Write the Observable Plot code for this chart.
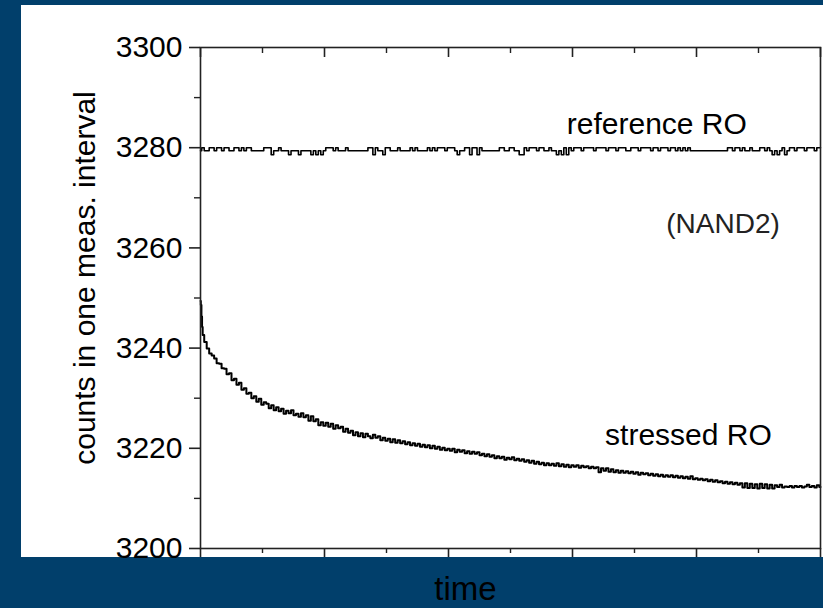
<!DOCTYPE html>
<html><head><meta charset="utf-8">
<script src="https://cdn.jsdelivr.net/npm/d3@7"></script>
<script src="https://cdn.jsdelivr.net/npm/@observablehq/plot@0.6"></script>
<style>
html,body{margin:0;padding:0;background:#013f6b;}
#wrap{position:relative;width:823px;height:608px;background:#013f6b;overflow:hidden;}
#panel{position:absolute;left:21px;top:5px;width:802px;height:552px;background:#fff;}
#chart{position:absolute;left:0;top:0;}
</style></head><body>
<div id="wrap"><div id="panel"></div><div id="chart"></div></div>
<script>
// sampling grid (time, arbitrary units 0..5)
const sampleTime = d3.range(251).map(i => +(i * 0.02).toFixed(2));

// reference ring oscillator counts
const referenceValues = [
3279.4,3280.0,3279.4,3279.4,3280.0,3280.0,3279.4,3280.0,3280.0,3279.4,
3280.0,3280.0,3279.4,3279.4,3280.0,3280.0,3279.4,3280.0,3279.4,3280.0,
3280.0,3279.4,3279.4,3279.4,3279.4,3279.4,3280.0,3280.0,3280.0,3278.6,
3279.4,3279.4,3280.0,3279.4,3279.4,3279.4,3278.6,3279.4,3279.4,3279.4,
3278.6,3279.4,3279.4,3279.4,3279.4,3278.6,3279.4,3278.6,3279.4,3278.6,
3279.4,3280.0,3280.0,3280.0,3279.4,3280.0,3279.4,3279.4,3279.4,3280.0,
3279.4,3279.4,3279.4,3279.4,3279.4,3279.4,3279.4,3279.4,3280.0,3280.0,
3278.6,3280.0,3279.4,3279.4,3278.6,3280.0,3280.0,3279.4,3279.4,3279.4,
3280.0,3279.4,3279.4,3279.4,3279.4,3280.0,3279.4,3280.0,3279.4,3279.4,
3279.4,3279.4,3280.0,3279.4,3280.0,3279.4,3280.0,3280.0,3280.0,3279.4,
3280.0,3280.0,3280.0,3279.4,3278.6,3279.4,3279.4,3280.0,3280.0,3278.6,
3280.0,3280.0,3278.6,3280.0,3279.4,3279.4,3279.4,3279.4,3279.4,3279.4,
3279.4,3280.0,3280.0,3279.4,3279.4,3280.0,3280.0,3279.4,3279.4,3278.6,
3278.6,3280.0,3279.4,3280.0,3280.0,3280.0,3279.4,3280.0,3280.0,3279.4,
3279.4,3280.0,3279.4,3279.4,3278.6,3279.4,3278.6,3280.0,3278.6,3280.0,
3279.4,3280.0,3280.0,3280.0,3279.4,3280.0,3280.0,3280.0,3280.0,3279.4,
3280.0,3280.0,3280.0,3280.0,3279.4,3280.0,3280.0,3280.0,3279.4,3280.0,
3280.0,3280.0,3279.4,3279.4,3280.0,3280.0,3280.0,3279.4,3280.0,3280.0,
3280.0,3280.0,3279.4,3280.0,3280.0,3279.4,3280.0,3280.0,3280.0,3279.4,
3280.0,3280.0,3279.4,3280.0,3279.4,3280.0,3279.4,3280.0,3279.4,3279.4,
3279.4,3279.4,3279.4,3279.4,3279.4,3279.4,3279.4,3279.4,3279.4,3279.4,
3279.4,3279.4,3279.4,3280.0,3280.0,3279.4,3280.0,3280.0,3279.4,3280.0,
3279.4,3279.4,3280.0,3279.4,3279.4,3279.4,3280.0,3280.0,3279.4,3280.0,
3279.4,3278.6,3279.4,3278.6,3279.4,3280.0,3278.6,3279.4,3280.0,3280.0,
3279.4,3280.0,3280.0,3280.0,3279.4,3280.0,3280.0,3280.0,3279.4,3280.0,
3280.0
];

// stressed ring oscillator counts
const stressedValues = [
3249.4,3242.6,3241.2,3239.9,3238.9,3238.5,3237.9,3237.0,3236.9,3236.0,
3235.9,3234.8,3235.0,3233.6,3233.9,3232.7,3233.1,3231.7,3232.0,3230.9,
3231.1,3230.0,3230.4,3229.3,3229.9,3228.7,3229.2,3228.9,3228.0,3228.6,
3227.6,3228.2,3227.4,3227.9,3226.9,3227.5,3227.0,3227.6,3226.6,3226.9,
3226.3,3227.0,3226.2,3226.6,3225.5,3226.4,3225.4,3225.8,3224.6,3225.2,
3224.5,3225.1,3224.3,3224.9,3223.9,3224.6,3224.0,3224.3,3223.3,3223.9,
3223.1,3223.5,3222.6,3223.2,3222.4,3223.0,3222.2,3222.9,3222.4,3222.0,
3222.7,3222.1,3222.4,3221.6,3222.1,3221.5,3221.9,3221.2,3221.8,3221.1,
3221.6,3221.0,3221.4,3220.8,3221.2,3220.6,3221.0,3220.5,3220.9,3220.3,
3220.7,3220.2,3220.6,3220.0,3220.5,3219.9,3220.3,3219.7,3220.1,3219.6,
3219.9,3219.5,3219.9,3219.2,3219.7,3219.3,3219.6,3219.0,3219.4,3218.9,
3219.3,3218.9,3219.2,3218.6,3218.9,3218.4,3218.8,3218.3,3218.6,3218.0,
3218.4,3218.0,3218.3,3217.7,3218.1,3217.8,3218.2,3217.6,3217.9,3217.5,
3217.8,3217.3,3217.6,3217.1,3217.5,3216.9,3217.3,3216.8,3217.1,3216.6,
3217.0,3216.6,3216.9,3216.5,3217.0,3216.4,3216.8,3216.3,3216.7,3216.2,
3216.6,3216.3,3216.6,3216.1,3216.5,3216.2,3216.4,3216.0,3216.3,3216.0,
3216.2,3215.2,3216.0,3215.5,3216.0,3215.3,3215.8,3215.2,3215.6,3215.1,
3215.5,3215.1,3215.4,3215.0,3215.3,3214.9,3215.2,3214.7,3215.1,3214.8,
3215.0,3214.6,3214.9,3214.5,3214.8,3214.4,3214.7,3214.3,3214.6,3214.3,
3214.6,3214.2,3214.5,3214.1,3214.4,3214.0,3214.3,3213.9,3214.4,3213.8,
3214.0,3213.7,3213.9,3213.6,3213.8,3213.4,3213.7,3213.3,3213.6,3213.2,
3213.4,3213.0,3213.3,3212.9,3213.2,3212.8,3213.1,3212.7,3213.0,3212.2,
3213.0,3212.1,3212.9,3212.1,3212.8,3212.0,3212.9,3212.1,3212.8,3212.0,
3212.7,3212.0,3212.6,3212.3,3212.7,3212.2,3212.4,3212.3,3212.5,3212.2,
3212.5,3212.3,3212.5,3212.2,3212.4,3212.7,3212.3,3212.5,3212.2,3212.6,
3212.3
];
// extra samples in the steep initial drop
const stressedEarlyTime = [0.005, 0.01, 0.015];
const stressedEarlyValues = [3248.6, 3246.3, 3244.2];

// axes
const yMajorTicks = [3200, 3220, 3240, 3260, 3280, 3300];
const yMinorTicks = [3210, 3230, 3250, 3270, 3290];
const xMajorTicks = [0, 1, 2, 3, 4, 5];
const xMinorTicks = [0.5, 1.5, 2.5, 3.5, 4.5];

// annotations
const noteText = ["reference RO", "(NAND2)", "stressed RO"];
const noteTime = [3.68, 4.214, 3.935];
const noteCount = [3284.6, 3264.7, 3222.6];

const refData = sampleTime.map((t, i) => ({t, v: referenceValues[i]}));
const stressData = sampleTime.map((t, i) => ({t, v: stressedValues[i]}))
  .concat(stressedEarlyTime.map((t, i) => ({t, v: stressedEarlyValues[i]})))
  .sort((a, b) => a.t - b.t);
const notes = noteText.map((s, i) => ({s, t: noteTime[i], v: noteCount[i]}));

const W = 823, H = 608, mT = 47, mB = 60, mL = 200, mR = 3;
const innerH = H - mT - mB;
const font = "'Liberation Sans', Arial, Helvetica, sans-serif";

const chart = Plot.plot({
  width: W, height: H,
  marginTop: mT, marginBottom: mB, marginLeft: mL, marginRight: mR,
  style: {background: "transparent", color: "#000", fontFamily: font, fontSize: "29px", overflow: "visible"},
  x: {domain: [0, 5]},
  y: {domain: [3200, 3300]},
  marks: [
    Plot.line(refData, {x: "t", y: "v", stroke: "#000", strokeWidth: 1.6, curve: "step"}),
    Plot.line(stressData, {x: "t", y: "v", stroke: "#000", strokeWidth: 2, curve: "step"}),
    Plot.frame({stroke: "#222", strokeWidth: 1.6}),
    Plot.axisY(yMajorTicks, {tickSize: 11, tickPadding: 7, fontSize: 30, label: null, tickFormat: d => String(d), stroke: "#222", strokeWidth: 1.6, fill: "#000"}),
    Plot.axisY(yMinorTicks, {tickSize: 6, tickFormat: () => "", label: null, stroke: "#222", strokeWidth: 1.4}),
    Plot.axisX(xMajorTicks, {tickSize: 9, tickFormat: () => "", label: null, stroke: "#222", strokeWidth: 1.6}),
    Plot.axisX(xMinorTicks, {tickSize: 5, tickFormat: () => "", label: null, stroke: "#222", strokeWidth: 1.4}),
    Plot.tickX(xMajorTicks, {x: d => d, insetBottom: innerH - 10, stroke: "#222", strokeWidth: 1.6}),
    Plot.tickX(xMinorTicks, {x: d => d, insetBottom: innerH - 6, stroke: "#222", strokeWidth: 1.4}),
    Plot.text(notes, {x: "t", y: "v", text: "s", fontSize: d => d.s === "(NAND2)" ? 28 : 30, fill: d => d.s === "(NAND2)" ? "#222" : "#000", textAnchor: "middle"}),
    Plot.text(["counts in one meas. interval"], {text: d => d, frameAnchor: "left", textAnchor: "middle", lineAnchor: "middle", dx: -115, dy: -20, rotate: -90, fontSize: 30, fill: "#000"}),
    Plot.text(["time"], {text: d => d, frameAnchor: "bottom", textAnchor: "middle", lineAnchor: "middle", dx: -45, dy: 41, fontSize: 33, fill: "#000"})
  ]
});
document.getElementById("chart").appendChild(chart);
</script>
</body></html>
